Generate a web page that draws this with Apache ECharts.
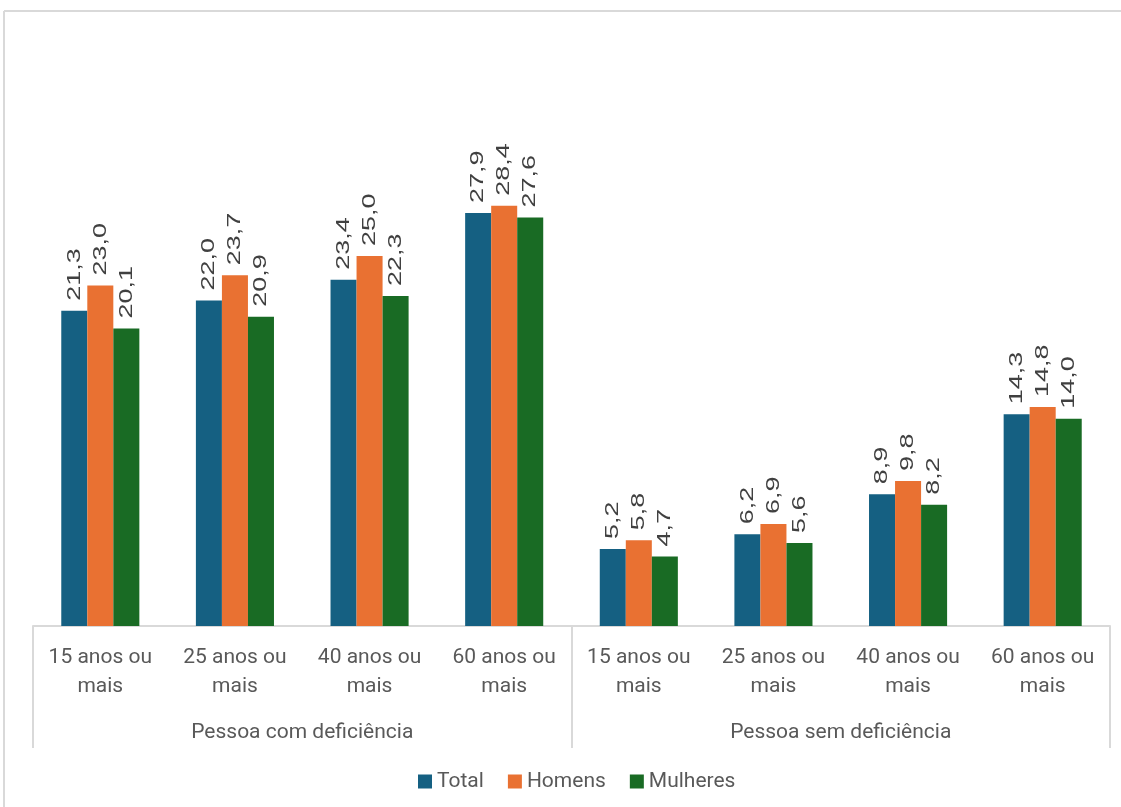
<!DOCTYPE html>
<html>
<head>
<meta charset="utf-8">
<script src="https://cdn.jsdelivr.net/npm/echarts@6/dist/echarts.min.js"></script>
<style>
  html, body { margin: 0; padding: 0; background: #fff; }
  #chart { width: 1121px; height: 807px; }
</style>
</head>
<body>
<div id="chart"></div>
<script>
// Age bands (inner axis) and disability groups (outer axis)
const ageBands = [
  '15 anos ou\nmais', '25 anos ou\nmais', '40 anos ou\nmais', '60 anos ou\nmais',
  '15 anos ou\nmais', '25 anos ou\nmais', '40 anos ou\nmais', '60 anos ou\nmais'
];
const groups = ['Pessoa com deficiência', 'Pessoa sem deficiência'];

// Percent values per series
const total    = [21.3, 22.0, 23.4, 27.9, 5.2, 6.2, 8.9, 14.3];
const homens   = [23.0, 23.7, 25.0, 28.4, 5.8, 6.9, 9.8, 14.8];
const mulheres = [20.1, 20.9, 22.3, 27.6, 4.7, 5.6, 8.2, 14.0];

const seriesNames = ['Total', 'Homens', 'Mulheres'];
const seriesColors = ['#156082', '#E97132', '#196B24'];
const seriesData = [total, homens, mulheres];

const CATEGORY_GAP = 0.42; // fraction of each band left empty around a bar cluster

// One record per value label: [category index, value, series index]
const labelRecords = [];
seriesData.forEach((arr, s) => arr.forEach((v, c) => labelRecords.push([c, v, s])));

const chart = echarts.init(document.getElementById('chart'));

// Vertical value labels, drawn wide along their reading direction
function renderValueLabel(params, api) {
  const cat = api.value(0);
  const val = api.value(1);
  const s = api.value(2);
  const pt = api.coord([cat, val]);
  const band = api.size([1, 0])[0];
  const barW = band * (1 - CATEGORY_GAP) / seriesData.length;
  const x = pt[0] + (s - (seriesData.length - 1) / 2) * barW;
  return {
    type: 'text',
    x: x,
    y: pt[1] - 10,
    rotation: Math.PI / 2,
    scaleX: 1.42,
    silent: true,
    style: {
      text: val.toFixed(1).replace('.', ','),
      fill: '#404040',
      font: '19px "Liberation Sans", Arial, sans-serif',
      align: 'left',
      verticalAlign: 'middle'
    }
  };
}

chart.setOption({
  animation: false,
  backgroundColor: '#ffffff',
  graphic: [
    { type: 'line', shape: { x1: 4, y1: 11, x2: 1121, y2: 11 }, style: { stroke: '#d9d9d9', lineWidth: 2 } },
    { type: 'line', shape: { x1: 4, y1: 11, x2: 4, y2: 807 }, style: { stroke: '#d9d9d9', lineWidth: 2 } }
  ],
  grid: { left: 33, right: 11, top: 182, bottom: 181, containLabel: false },
  legend: {
    bottom: 10,
    left: 413,
    itemWidth: 14,
    itemHeight: 14,
    itemGap: 24,
    icon: 'rect',
    textStyle: { color: '#595959', fontSize: 21, fontFamily: 'Roboto' },
    data: seriesNames
  },
  xAxis: [
    {
      type: 'category',
      data: ageBands,
      position: 'bottom',
      axisLine: { show: true, lineStyle: { color: '#d9d9d9', width: 2 } },
      axisTick: { show: false },
      axisLabel: {
        interval: 0,
        color: '#595959',
        fontSize: 21,
        fontFamily: 'Roboto',
        lineHeight: 29,
        margin: 17
      }
    },
    {
      type: 'category',
      data: groups,
      position: 'bottom',
      axisLine: { show: false },
      axisTick: { show: true, inside: false, length: 122, lineStyle: { color: '#d9d9d9', width: 2 } },
      axisLabel: {
        interval: 0,
        color: '#595959',
        fontSize: 21,
        fontFamily: 'Roboto',
        margin: 96
      },
      boundaryGap: true
    }
  ],
  yAxis: { type: 'value', min: 0, max: 30, show: false, splitLine: { show: false } },
  series: seriesNames.map((name, i) => ({
    name,
    type: 'bar',
    xAxisIndex: 0,
    data: seriesData[i],
    itemStyle: { color: seriesColors[i] },
    barGap: '0%',
    barCategoryGap: (CATEGORY_GAP * 100) + '%'
  })).concat([{
    name: 'rotulos',
    type: 'custom',
    xAxisIndex: 0,
    data: labelRecords,
    renderItem: renderValueLabel,
    z: 10
  }])
});
</script>
</body>
</html>
